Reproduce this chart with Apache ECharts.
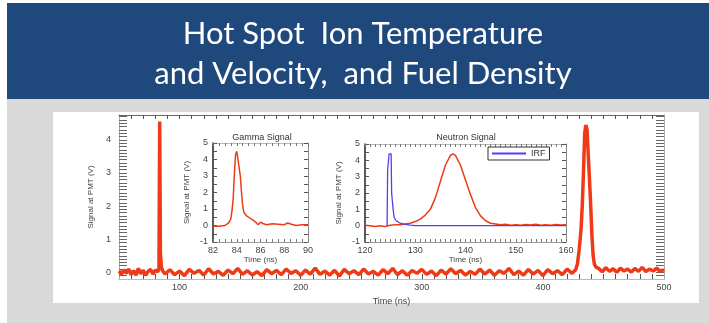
<!DOCTYPE html>
<html>
<head>
<meta charset="utf-8">
<script src="https://cdn.jsdelivr.net/npm/echarts@6/dist/echarts.min.js"></script>
<style>
html,body{margin:0;padding:0;background:#fff;}
#c{width:709px;height:323px;}
</style>
</head>
<body>
<div id="c"></div>
<script>
// ---- Data ----
const titleLines = ['Hot Spot  Ion Temperature', 'and Velocity,  and Fuel Density'];

// Main trace: Signal at PMT (V) vs Time (ns)
const mainSignal = [
 [50,0.04],[52,-0.06],[54,0.08],[56,-0.03],[58,0.1],[60,-0.07],[62,0.05],[64,-0.08],[66,0.12],[68,-0.04],
 [70,0.06],[72,-0.09],[74,0.03],[76,0.09],[78,-0.05],[80,0.07],[82,0.02],
 [83,0.1],[83.6,4.55],[84.2,0.6],[85,0.15],[86,0.05],
 [88,-0.05],[92,0.08],[96,-0.07],[100,0.04],[104,-0.1],[108,0.09],[112,-0.03],[116,0.06],[120,-0.08],[124,0.11],
 [128,-0.05],[132,0.03],[136,-0.09],[140,0.07],[144,-0.04],[148,0.12],[152,-0.06],[156,0.05],[160,-0.08],[164,0.02],
 [168,-0.1],[172,0.08],[176,-0.04],[180,0.06],[184,-0.07],[188,0.1],[192,-0.03],[196,0.05],[200,-0.09],[204,0.07],
 [208,-0.05],[212,0.13],[216,-0.06],[220,0.04],[224,-0.08],[228,0.06],[232,-0.11],[236,0.09],[240,-0.04],[244,0.05],
 [248,-0.07],[252,0.1],[256,-0.05],[260,0.03],[264,-0.08],[268,0.08],[272,-0.04],[276,0.12],[280,-0.07],[284,0.05],
 [288,-0.09],[292,0.06],[296,-0.03],[300,0.09],[304,-0.06],[308,0.04],[312,-0.1],[316,0.07],[320,-0.05],[324,0.11],
 [328,-0.04],[332,0.06],[336,-0.08],[340,0.03],[344,-0.06],[348,0.1],[352,-0.05],[356,0.07],[360,-0.09],[364,0.05],
 [368,-0.03],[372,0.12],[376,-0.07],[380,0.04],[384,-0.08],[388,0.09],[392,-0.05],[396,0.06],[400,-0.1],[404,0.08],
 [408,-0.04],[412,0.05],[416,-0.07],[420,0.1],[424,-0.03],
 [427,0.08],[428.5,0.25],[430,0.7],[431.5,1.3],[432.5,2.0],[433.5,3.0],[434.5,4.2],[435.5,4.45],[436.5,4.3],
 [437.5,3.5],[438.5,2.8],[439.5,2.0],[440.5,1.1],[441.5,0.5],[442.5,0.25],[444,0.15],
 [446,0.12],[449,0.02],[452,0.14],[455,0.03],[458,0.11],[461,0.0],[464,0.13],[467,0.04],[470,0.1],[473,0.01],
 [476,0.12],[479,0.03],[482,0.15],[485,0.02],[488,0.1],[491,0.04],[494,0.13],[497,0.02],[500,0.09]
];
const mainXLabels = [100, 200, 300, 400, 500];
const mainYLabels = [0, 1, 2, 3, 4];

// Gamma inset
const gammaSignal = [
 [82,-0.05],[82.5,-0.05],[83,0.0],[83.3,0.15],[83.5,0.4],[83.6,0.9],[83.7,1.6],[83.8,3.1],[83.9,4.3],[84.0,4.5],
 [84.1,4.0],[84.2,3.9],[84.3,3.0],[84.4,2.0],[84.5,1.2],[84.6,0.8],[84.8,0.6],[85.0,0.5],[85.3,0.35],[85.6,0.2],
 [85.8,0.05],[86.0,0.2],[86.2,0.12],[86.5,0.05],[87.0,0.1],[87.5,0.08],[88.0,0.05],[88.3,0.15],[88.6,0.08],
 [89.0,0.0],[89.5,0.05],[90.0,0.05]
];
const gammaXLabels = [82, 84, 86, 88, 90];

// Neutron inset
const neutronSignal = [
 [120,0.02],[121,0.0],[122,-0.05],[123,0.0],[124,-0.05],[125,0.02],[126,0.05],[127,0.05],[128,0.1],[129,0.15],
 [130,0.25],[131,0.4],[132,0.65],[133,1.0],[134,1.7],[135,2.7],[136,3.7],[137,4.3],[137.5,4.4],[138,4.3],
 [139,3.7],[140,2.8],[141,1.9],[142,1.1],[143,0.6],[144,0.3],[145,0.15],[146,0.1],[147,0.05],[148,0.08],
 [149,0.03],[150,0.06],[151,0.02],[152,0.07],[153,0.04],[154,0.08],[155,0.03],[156,0.06],[157,0.02],[158,0.07],
 [159,0.04],[160,0.05]
];
const irfSignal = [
 [124.4,0.0],[124.5,3.4],[124.7,3.4],[124.8,4.4],[125.2,4.4],[125.3,2.0],[125.5,2.0],[125.6,1.0],[125.8,0.5],
 [126.2,0.3],[127,0.15],[128,0.08],[129,0.03],[130,0.0],[160,0.0]
];
const neutronXLabels = [120, 130, 140, 150, 160];
const insetYLabels = [-1, 0, 1, 2, 3, 4, 5];

// ---- Chart ----
const RED = '#ee3a16';
const BLUE = '#5040f0';
const FONT = 'Liberation Sans';
const chart = echarts.init(document.getElementById('c'), null, {renderer: 'canvas'});

function range(a, b, s) { const r = []; for (let v = a; v <= b + 1e-9; v += s) r.push(+v.toFixed(4)); return r; }

const lbl = {fontFamily: FONT, fontSize: 9, color: '#444'};

function xAx(grid, min, max, labels, minorStep, opt) {
  return Object.assign({
    type: 'value', gridIndex: grid, min: min, max: max, position: 'bottom',
    axisLine: {show: true, onZero: false, lineStyle: {color: '#999', width: 1}},
    axisTick: {show: true, inside: true, length: 3, customValues: range(min, max, minorStep), lineStyle: {color: '#777'}},
    axisLabel: Object.assign({show: true, customValues: labels, margin: 4}, lbl),
    splitLine: {show: false}
  }, opt || {});
}
function yAx(grid, min, max, labels, ticks, opt) {
  return Object.assign({
    type: 'value', gridIndex: grid, min: min, max: max, position: 'left',
    axisLine: {show: true, onZero: false, lineStyle: {color: '#222', width: 1.5}},
    axisTick: {show: true, inside: true, length: 4, customValues: ticks, lineStyle: {color: '#555'}},
    axisLabel: Object.assign({show: true, customValues: labels, margin: 5}, lbl),
    splitLine: {show: false}
  }, opt || {});
}

const option = {
  animation: false,
  backgroundColor: '#fff',
  graphic: [
    {type: 'rect', z: -10, shape: {x: 7, y: 3, width: 702, height: 96}, style: {fill: '#1f497d'}},
    {type: 'rect', z: -10, shape: {x: 7, y: 99, width: 702, height: 224}, style: {fill: '#d9d9d9'}},
    {type: 'rect', z: -9, shape: {x: 53, y: 112, width: 646, height: 191}, style: {fill: '#ffffff'}},
    {type: 'text', z: 10, x: 363, y: 34, style: {text: titleLines[0], fill: '#fff', font: '31px Lato', align: 'center', verticalAlign: 'middle'}},
    {type: 'text', z: 10, x: 363, y: 74, style: {text: titleLines[1], fill: '#fff', font: '31px Lato', align: 'center', verticalAlign: 'middle'}},
    {type: 'text', z: 10, x: 262, y: 138, style: {text: 'Gamma Signal', fill: '#333', font: '9px ' + FONT, align: 'center', verticalAlign: 'middle'}},
    {type: 'text', z: 10, x: 466, y: 138, style: {text: 'Neutron Signal', fill: '#333', font: '9px ' + FONT, align: 'center', verticalAlign: 'middle'}}
  ],
  grid: [
    {left: 119, right: 45, top: 115, bottom: 44},
    {left: 213, width: 95, top: 143, height: 99},
    {left: 365, width: 201, top: 144, height: 98}
  ],
  legend: {
    data: ['IRF'], left: 488, top: 147, orient: 'horizontal',
    borderColor: '#333', borderWidth: 1, padding: [2, 4, 2, 4],
    itemWidth: 34, itemHeight: 2, icon: 'rect',
    textStyle: {fontFamily: FONT, fontSize: 9, color: '#333'}
  },
  xAxis: [
    xAx(0, 50, 500, mainXLabels, 10, {
      name: 'Time (ns)', nameLocation: 'middle', nameGap: 16,
      nameTextStyle: {fontFamily: FONT, fontSize: 9, color: '#444'},
      axisLine: {show: true, onZero: false, lineStyle: {color: '#bbb', width: 1}},
      axisTick: {show: true, inside: true, length: 5, customValues: range(60, 490, 10), lineStyle: {color: '#555'}}
    }),
    xAx(0, 50, 500, [], 10, {position: 'top', axisLabel: {show: false},
      axisLine: {show: true, onZero: false, lineStyle: {color: '#666', width: 1}},
      axisTick: {show: true, inside: true, length: 4, customValues: range(60, 490, 10), lineStyle: {color: '#555'}}}),
    xAx(1, 82, 90, gammaXLabels, 0.5, {
      name: 'Time (ns)', nameLocation: 'middle', nameGap: 14,
      nameTextStyle: {fontFamily: FONT, fontSize: 8, color: '#444'}
    }),
    xAx(1, 82, 90, [], 0.5, {position: 'top', axisLabel: {show: false}, axisLine: {show: true, onZero: false, lineStyle: {color: '#bbb'}}}),
    xAx(2, 120, 160, neutronXLabels, 1, {
      name: 'Time (ns)', nameLocation: 'middle', nameGap: 14,
      nameTextStyle: {fontFamily: FONT, fontSize: 8, color: '#444'}
    }),
    xAx(2, 120, 160, [], 1, {position: 'top', axisLabel: {show: false}, axisLine: {show: true, onZero: false, lineStyle: {color: '#bbb'}}})
  ],
  yAxis: [
    yAx(0, -0.2, 4.75, mainYLabels, range(-0.1, 4.7, 0.1), {
      name: 'Signal at PMT (V)', nameLocation: 'middle', nameGap: 24,
      nameTextStyle: {fontFamily: FONT, fontSize: 8, color: '#444'},
      axisLine: {show: true, onZero: false, lineStyle: {color: '#aaa', width: 1}},
      axisTick: {show: true, inside: true, length: 8, customValues: range(-0.1, 4.7, 0.1), lineStyle: {color: '#666'}},
      axisLabel: Object.assign({show: true, customValues: mainYLabels, margin: 8}, lbl)
    }),
    yAx(0, -0.2, 4.75, [], range(-0.1, 4.7, 0.1), {position: 'right', axisLabel: {show: false},
      axisLine: {show: true, onZero: false, lineStyle: {color: '#aaa', width: 1}},
      axisTick: {show: true, inside: true, length: 8, customValues: range(-0.1, 4.7, 0.1), lineStyle: {color: '#666'}}}),
    yAx(1, -1, 5, insetYLabels, range(-1, 5, 0.5), {
      name: 'Signal at PMT (V)', nameLocation: 'middle', nameGap: 22,
      nameTextStyle: {fontFamily: FONT, fontSize: 8, color: '#444'}
    }),
    yAx(1, -1, 5, [], range(-1, 5, 0.5), {position: 'right', axisLabel: {show: false}, axisLine: {show: true, onZero: false, lineStyle: {color: '#888', width: 1}}}),
    yAx(2, -1, 5, insetYLabels, range(-1, 5, 0.5), {
      name: 'Signal at PMT (V)', nameLocation: 'middle', nameGap: 22,
      nameTextStyle: {fontFamily: FONT, fontSize: 8, color: '#444'}
    }),
    yAx(2, -1, 5, [], range(-1, 5, 0.5), {position: 'right', axisLabel: {show: false}, axisLine: {show: true, onZero: false, lineStyle: {color: '#888', width: 1}}})
  ],
  series: [
    {name: 'Main', type: 'line', xAxisIndex: 0, yAxisIndex: 0, data: mainSignal, showSymbol: false, clip: true,
     lineStyle: {color: RED, width: 3.5}, itemStyle: {color: RED}},
    {name: 'Gamma', type: 'line', xAxisIndex: 2, yAxisIndex: 2, data: gammaSignal, showSymbol: false,
     lineStyle: {color: RED, width: 1.5}, itemStyle: {color: RED}},
    {name: 'Neutron', type: 'line', xAxisIndex: 4, yAxisIndex: 4, data: neutronSignal, showSymbol: false,
     lineStyle: {color: RED, width: 1.5}, itemStyle: {color: RED}},
    {name: 'IRF', type: 'line', xAxisIndex: 4, yAxisIndex: 4, data: irfSignal, showSymbol: false,
     lineStyle: {color: BLUE, width: 1.3}, itemStyle: {color: BLUE}}
  ]
};
chart.setOption(option);
</script>
</body>
</html>
